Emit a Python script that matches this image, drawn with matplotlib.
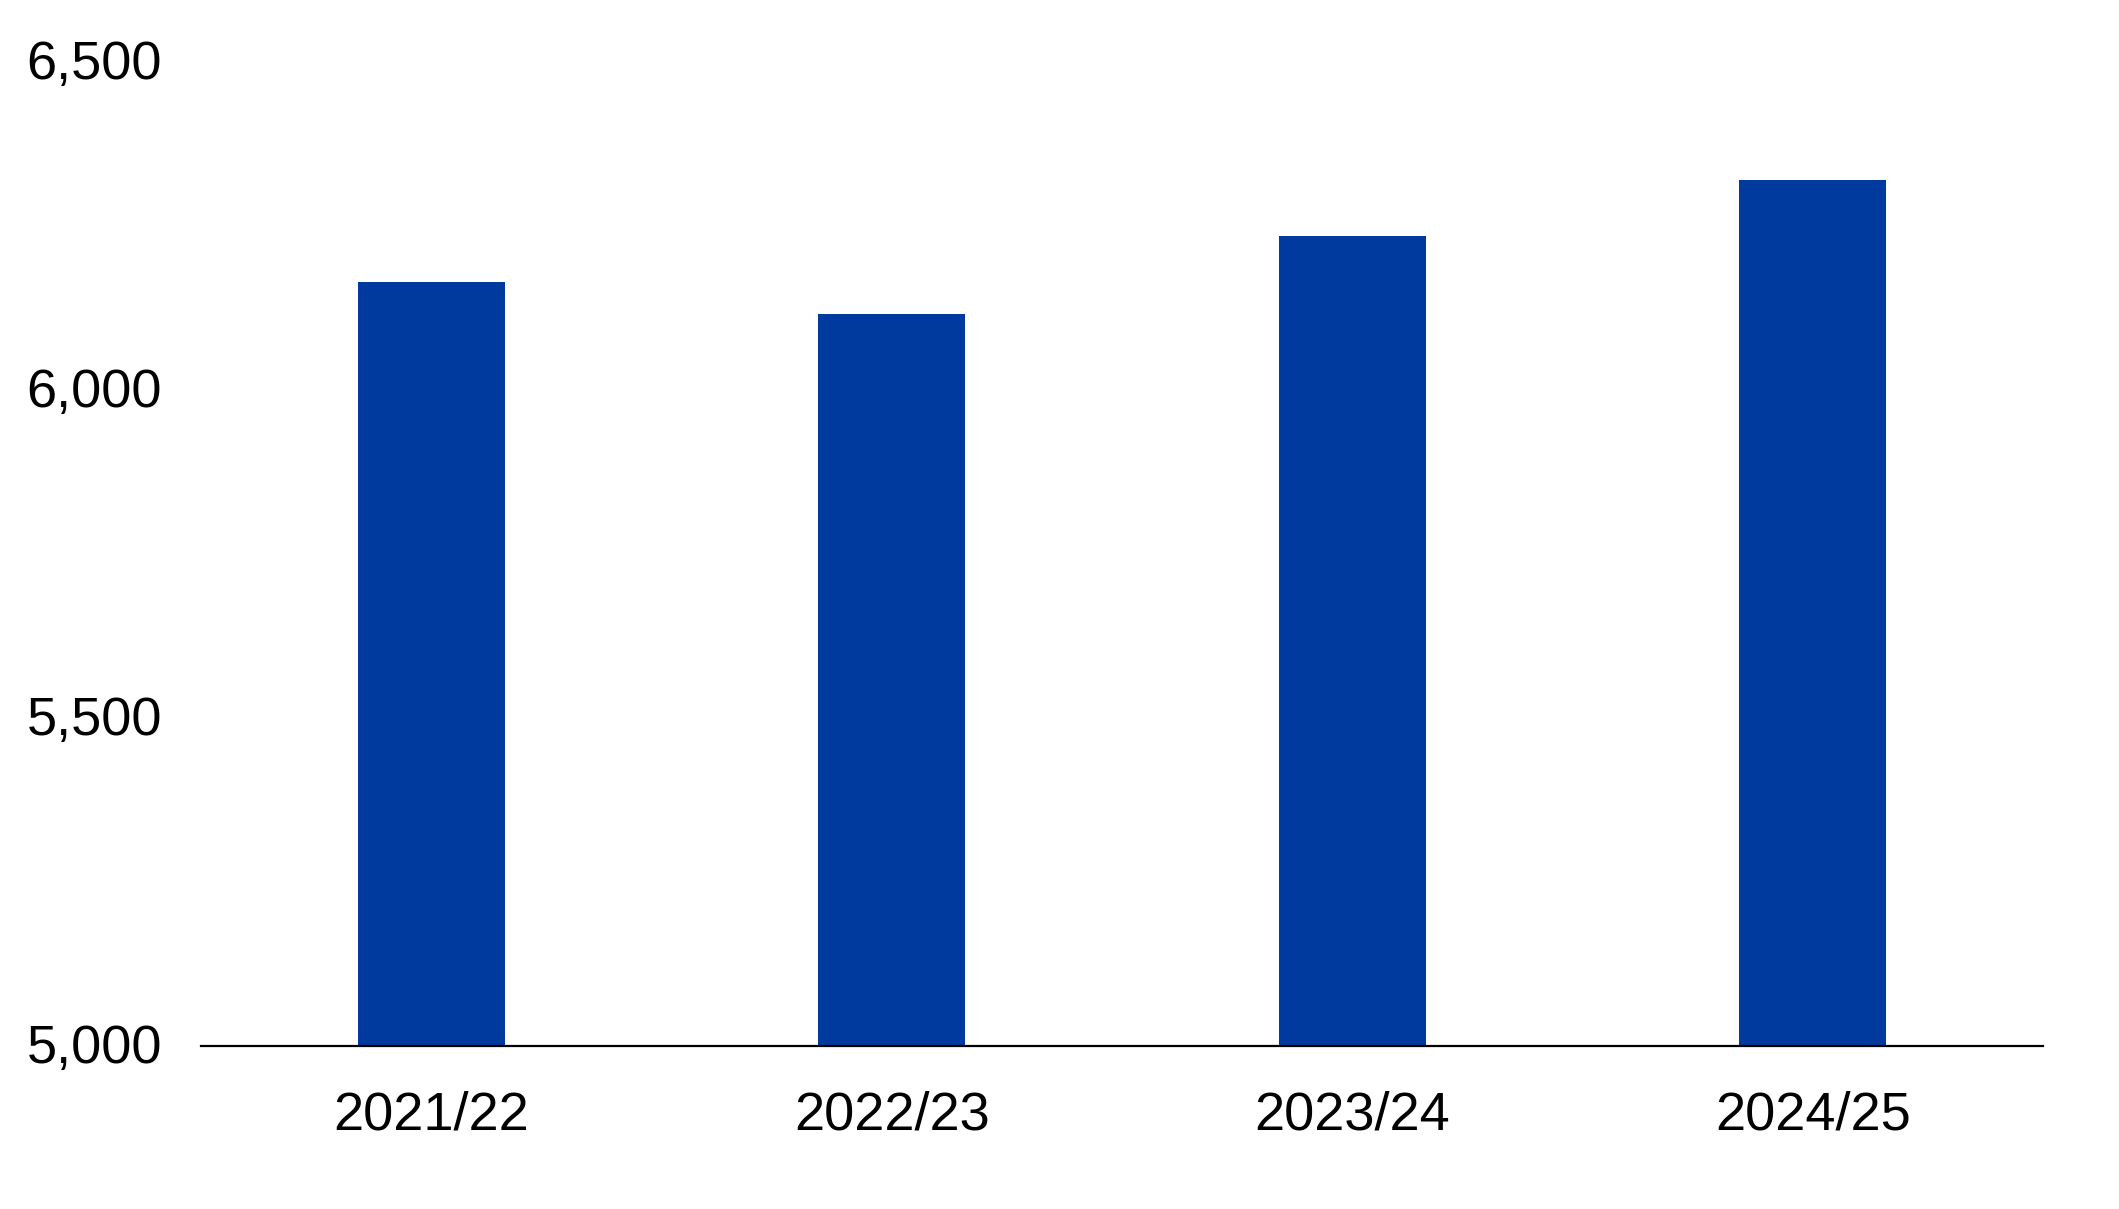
import matplotlib.pyplot as plt
import matplotlib.transforms as mtransforms
from matplotlib.ticker import FuncFormatter

# data
years = ["2021/22", "2022/23", "2023/24", "2024/25"]
values = [6165, 6116, 6235, 6320]
y_ticks = [5000, 5500, 6000, 6500]


def main():
    plt.rcParams['font.family'] = ['Liberation Sans', 'DejaVu Sans']
    fig = plt.figure(figsize=(21.19, 12.09), dpi=100)
    ax = fig.add_axes([0.0949, 0.1348, 0.8692, 0.8139])

    x = range(len(years))
    ax.bar(x, values, width=0.32, color="#003a9f", zorder=2)

    ax.set_xlim(-0.5, len(years) - 0.5)
    ax.set_ylim(5000, 6500)
    ax.set_xticks(list(x))
    ax.set_xticklabels(years)
    ax.set_yticks(y_ticks)
    ax.yaxis.set_major_formatter(FuncFormatter(lambda v, p: "{:,.0f}".format(v)))

    for s in ["top", "right", "left"]:
        ax.spines[s].set_visible(False)
    ax.spines["bottom"].set_linewidth(1.6)
    ax.spines["bottom"].set_zorder(3)

    ax.tick_params(axis="x", length=0, pad=32, labelsize=39)
    ax.tick_params(axis="y", length=0, pad=28, labelsize=39)

    # nudge y labels up a few pixels
    shift = mtransforms.ScaledTranslation(0, 3 / 100, fig.dpi_scale_trans)
    for lbl in ax.get_yticklabels():
        lbl.set_transform(lbl.get_transform() + shift)

    fig.savefig("out.png", dpi=100)


if __name__ == '__main__':
    main()
